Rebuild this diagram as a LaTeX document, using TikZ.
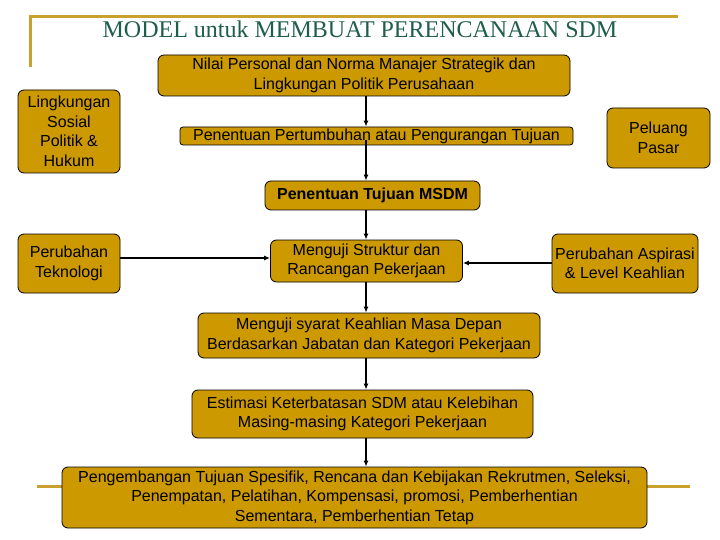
\documentclass[tikz,border=0pt]{standalone}
\usepackage{fontspec}
\setmainfont{Liberation Sans}
\newfontfamily\judulfont{Liberation Serif}
\usetikzlibrary{arrows.meta}
\definecolor{emas}{HTML}{CC9900}
\definecolor{garis}{HTML}{C9A22E}
\definecolor{judul}{HTML}{1F5E4C}

\begin{document}
\begin{tikzpicture}[x=1pt, y=-1pt,
	every node/.style={draw, fill=emas, rounded corners=6pt, line width=0.8pt, align=center, inner sep=0pt, font=\fontsize{16}{19.5}\selectfont},
	arr/.style={-{Latex[length=6pt,width=5pt]}, black, line width=1.3pt}]
	\useasboundingbox (0,0) rectangle (720,540);

	% garis hias
	\draw[garis, line width=3pt] (30,67) -- (30,17) -- (678,17);
	\draw[garis, line width=3pt] (37,486) -- (690,486);
	\node[draw=none, fill=none, text=judul, font=\judulfont\fontsize{24}{26}\selectfont] (judul) at (360,29) {MODEL untuk MEMBUAT PERENCANAAN SDM};

	\node[minimum width=412, minimum height=41] (nilai) at (364,75.5) {Nilai Personal dan Norma Manajer Strategik dan\\Lingkungan Politik Perusahaan};
	\node[minimum width=102, minimum height=83] (sosial) at (69,131.5) {Lingkungan\\Sosial\\Politik \&\\Hukum};
	\node[minimum width=393, minimum height=18, rounded corners=3pt] (tumbuh) at (376.5,136) {Penentuan Pertumbuhan atau Pengurangan Tujuan};
	\node[minimum width=103, minimum height=60] (pasar) at (658.5,138) {Peluang\\Pasar};
	\node[minimum width=215, minimum height=29, font=\bfseries\fontsize{16}{19.5}\selectfont] (msdm) at (372.5,195.5) {Penentuan Tujuan MSDM};
	\node[minimum width=102, minimum height=59] (tekno) at (69,263.5) {Perubahan\\Teknologi};
	\node[minimum width=192, minimum height=42] (struktur) at (366.5,261) {Menguji Struktur dan\\Rancangan Pekerjaan};
	\node[minimum width=146, minimum height=59] (aspirasi) at (625,263.5) {Perubahan Aspirasi\\\& Level Keahlian};
	\node[minimum width=342, minimum height=45] (syarat) at (369,335.5) {Menguji syarat Keahlian Masa Depan\\Berdasarkan Jabatan dan Kategori Pekerjaan};
	\node[minimum width=341, minimum height=48] (estimasi) at (362.5,414) {Estimasi Keterbatasan SDM atau Kelebihan\\Masing-masing Kategori Pekerjaan};
	\node[minimum width=585, minimum height=61] (kembang) at (354.5,497.5) {Pengembangan Tujuan Spesifik, Rencana dan Kebijakan Rekrutmen, Seleksi,\\Penempatan, Pelatihan, Kompensasi, promosi, Pemberhentian\\Sementara, Pemberhentian Tetap};

	\coordinate (poros) at (366,0);
	\coordinate (kiri) at (0,258);
	\coordinate (kanan) at (0,263);
	\draw[arr] (nilai.south -| poros) -- (tumbuh.north -| poros);
	\draw[arr] ([yshift=5pt]tumbuh.south -| poros) -- (msdm.north -| poros);
	\draw[arr] (msdm.south -| poros) -- (struktur.north -| poros);
	\draw[arr] (struktur.south -| poros) -- (syarat.north -| poros);
	\draw[arr] (syarat.south -| poros) -- (estimasi.north -| poros);
	\draw[arr] (estimasi.south -| poros) -- (kembang.north -| poros);
	\draw[arr] (tekno.east |- kiri) -- (struktur.west |- kiri);
	\draw[arr] (aspirasi.west |- kanan) -- (struktur.east |- kanan);
\end{tikzpicture}
\end{document}
